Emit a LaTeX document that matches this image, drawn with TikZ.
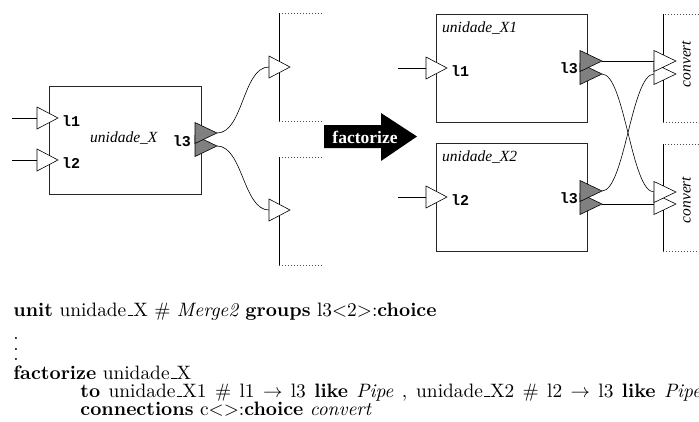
\documentclass[tikz,border=0pt]{standalone}
\usepackage{fontspec}
\newfontfamily\tms{Liberation Serif}
\newfontfamily\crr{Liberation Mono}
\newcommand\cmul{\leavevmode\kern.06em\vbox{\hrule width.3em}}
\begin{document}
\begin{tikzpicture}[x=1pt,y=-1pt,
  box/.style={draw=black!85, line width=0.9pt, inner sep=0pt},
  wire/.style={draw, line width=0.6pt},
  intri/.style={draw, fill=white, line width=0.6pt},
  outtri/.style={draw, fill=black!50, line width=0.6pt},
  dots/.style={draw=black!70, line width=0.7pt, dash pattern=on 0.7pt off 2.3pt},
  lbl/.style={font=\tms\itshape\fontsize{15.5}{16}\selectfont, inner sep=0pt},
  port/.style={font=\crr\bfseries\fontsize{15}{16}\selectfont, inner sep=0pt},
  code/.style={anchor=base west, inner sep=0pt, scale=1.94, font=\normalsize},
  fact/.style={font=\tms\bfseries\fontsize{17.5}{18}\selectfont, text=white, inner sep=0pt}
]
\useasboundingbox (0,0) rectangle (699,421);
\clip (0,0) rectangle (699,421);

% ---------- left unit ----------
\node[box, minimum width=152, minimum height=108] (U) at (125,140) {};
\coordinate (a1) at (12,118);  \coordinate (l1b) at (37,118);
\coordinate (a2) at (12,160);  \coordinate (l2b) at (37,160);
\coordinate (g1) at (195,133); \coordinate (g1t) at (217,133);
\coordinate (g2) at (195,146); \coordinate (g2t) at (217,146);
\coordinate (r1) at (269,67);
\coordinate (r2) at (269,210);

\draw[wire] (a1) -- (l1b);
\draw[wire] (a2) -- (l2b);
\draw[wire] (g1t) to[out=0,in=180,looseness=0.8] (r1);
\draw[wire] (g2t) to[out=0,in=180,looseness=0.8] (r2);

% brackets
\draw[dots] (322,13) -- (279,13);
\draw[wire] (279,13) -- (279,121);
\draw[dots] (279,121) -- (322,121);
\draw[dots] (322,157) -- (279,157);
\draw[wire] (279,157) -- (279,265);
\draw[dots] (279,265) -- (322,265);

\draw[intri] (l1b) ++(0,-11) -- ++(21,11) -- ++(-21,11) -- cycle;
\draw[intri] (l2b) ++(0,-11) -- ++(21,11) -- ++(-21,11) -- cycle;
\draw[outtri] (g2) ++(0,-10.5) -- ++(22,10.5) -- ++(-22,10.5) -- cycle;
\draw[outtri] (g1) ++(0,-10.5) -- ++(22,10.5) -- ++(-22,10.5) -- cycle;
\draw[intri] (r1) ++(0,-11) -- ++(21,11) -- ++(-21,11) -- cycle;
\draw[intri] (r2) ++(0,-11) -- ++(21,11) -- ++(-21,11) -- cycle;

\node[lbl, anchor=base west] (uX) at (90,142) {unidade\_X};
\node[port, anchor=base west] (pl1) at (62,126.5) {l1};
\node[port, anchor=base west] (pl2) at (62,168.5) {l2};
\node[port, anchor=base east] (pl3) at (191,146) {l3};

% ---------- factorize arrow ----------
\fill[black] (324,125) -- (381,125) -- (381,113) -- (417,136.5) -- (381,161) -- (381,148) -- (324,148) -- cycle;
\node[fact, anchor=base] (fz) at (365,143) {factorize};

% ---------- right units ----------
\node[box, minimum width=151, minimum height=108] (X1) at (511.5,68) {};
\node[box, minimum width=151, minimum height=108] (X2) at (511.5,197) {};
\coordinate (c1) at (398,68);  \coordinate (p1b) at (426,68);
\coordinate (c2) at (398,197); \coordinate (p2b) at (426,197);
\coordinate (h1) at (580,61);  \coordinate (h1t) at (602,61);
\coordinate (h2) at (580,74);  \coordinate (h2t) at (602,74);
\coordinate (h3) at (580,191); \coordinate (h3t) at (602,191);
\coordinate (h4) at (580,204); \coordinate (h4t) at (602,204);
\coordinate (v1) at (654,61);  \coordinate (v2) at (654,74);
\coordinate (v3) at (654,192); \coordinate (v4) at (654,204);

\draw[wire] (c1) -- (p1b);
\draw[wire] (c2) -- (p2b);
\draw[wire] (h1t) -- (v1);
\draw[wire] (h4t) -- (v4);
\draw[wire] (h2t) to[out=0,in=180,looseness=0.45] (v3);
\draw[wire] (h3t) to[out=0,in=180,looseness=0.45] (v2);

% convert brackets
\draw[dots] (699,14) -- (663,14);
\draw[wire] (663,14) -- (663,122);
\draw[dots] (663,122) -- (699,122);
\draw[dots] (699,144) -- (663,144);
\draw[wire] (663,144) -- (663,251);
\draw[dots] (663,251) -- (699,251);

\draw[intri] (p1b) ++(0,-11) -- ++(21,11) -- ++(-21,11) -- cycle;
\draw[intri] (p2b) ++(0,-11) -- ++(21,11) -- ++(-21,11) -- cycle;
\draw[outtri] (h2) ++(0,-10.5) -- ++(22,10.5) -- ++(-22,10.5) -- cycle;
\draw[outtri] (h1) ++(0,-10.5) -- ++(22,10.5) -- ++(-22,10.5) -- cycle;
\draw[outtri] (h4) ++(0,-10.5) -- ++(22,10.5) -- ++(-22,10.5) -- cycle;
\draw[outtri] (h3) ++(0,-10.5) -- ++(22,10.5) -- ++(-22,10.5) -- cycle;
\draw[intri] (v2) ++(0,-10.5) -- ++(22,10.5) -- ++(-22,10.5) -- cycle;
\draw[intri] (v1) ++(0,-10.5) -- ++(22,10.5) -- ++(-22,10.5) -- cycle;
\draw[intri] (v4) ++(0,-10.5) -- ++(22,10.5) -- ++(-22,10.5) -- cycle;
\draw[intri] (v3) ++(0,-10.5) -- ++(22,10.5) -- ++(-22,10.5) -- cycle;

\node[lbl, anchor=base west] (uX1) at (442,32) {unidade\_X1};
\node[lbl, anchor=base west] (uX2) at (442,161) {unidade\_X2};
\node[port, anchor=base west] (ql1) at (451,76.5) {l1};
\node[port, anchor=base west] (ql2) at (451,205.5) {l2};
\node[port, anchor=base east] (ql3a) at (578,73) {l3};
\node[port, anchor=base east] (ql3b) at (578,203) {l3};
\node[lbl, anchor=base, rotate=90] (cv1) at (690.5,64) {convert};
\node[lbl, anchor=base, rotate=90] (cv2) at (690.5,200) {convert};

% ---------- code text ----------
\node[code] (t1) at (13,316) {\textbf{unit} unidade\cmul X \# \textit{Merge2} \textbf{groups} l3$<$2$>$:\textbf{choice}};
\node[code] (dd) at (13,360.5) {\vbox{\baselineskip=5.4pt\hbox{.}\hbox{.}\hbox{.}}};
\node[code] (t2) at (13,379) {\textbf{factorize} unidade\cmul X};
\node[code] (t3) at (80,397) {\hbox to 320pt{\textbf{to} unidade\cmul X1 \# l1 $\rightarrow$ l3 \textbf{like} \textit{Pipe} , unidade\cmul X2 \# l2 $\rightarrow$ l3 \textbf{like} \textit{Pipe}}};
\node[code] (t4) at (80,415) {\textbf{connections} c$<$$>$:\textbf{choice} \textit{convert}};
\end{tikzpicture}
\end{document}
